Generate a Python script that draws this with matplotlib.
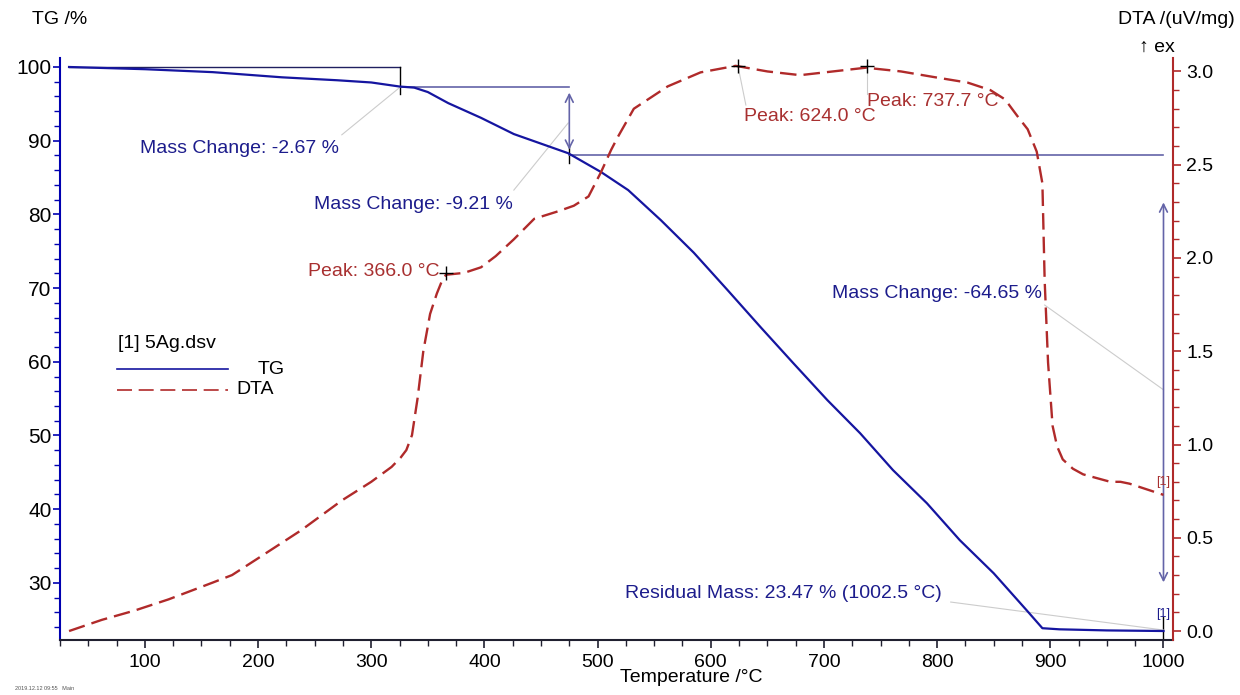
import matplotlib
matplotlib.use('Agg')
import matplotlib.pyplot as plt
from matplotlib.lines import Line2D

plt.rcParams['font.family'] = ['Liberation Sans', 'DejaVu Sans']
plt.rcParams['font.size'] = 14

# TG curve (temperature in °C, mass in %)
tg_temp = [33, 100, 160, 221, 270, 300, 325, 338, 350, 368, 397, 426, 450, 474,
           503, 527, 556, 585, 615, 644, 673, 703, 732, 761, 791, 820, 850, 879,
           893, 908, 950, 1000]
tg_mass = [100.0, 99.7, 99.3, 98.6, 98.2, 97.9, 97.35, 97.2, 96.6, 95.1, 93.1, 90.9,
           89.6, 88.3, 85.75, 83.3, 79.2, 74.8, 69.7, 64.7, 59.8, 54.8, 50.3, 45.3,
           40.8, 35.8, 31.3, 26.3, 23.85, 23.7, 23.55, 23.47]

# DTA curve (temperature in °C, signal in uV/mg)
dta_temp = [33, 62, 91, 121, 160, 177, 200, 238, 274, 300, 318, 326, 331, 336,
            341, 346, 352, 358, 362, 366, 382, 397, 410, 426, 444, 465, 479, 492,
            503, 512, 518, 532, 562, 591, 622, 650, 679, 708, 737, 768, 797, 827,
            847, 860, 871, 880, 888, 893, 895, 898, 902, 906, 911, 920, 929, 953,
            962, 970, 985, 1000]
dta_val = [0.0, 0.06, 0.11, 0.17, 0.26, 0.30, 0.39, 0.54, 0.70, 0.80, 0.88, 0.93,
           0.97, 1.05, 1.25, 1.50, 1.70, 1.81, 1.87, 1.91, 1.92, 1.95, 2.01, 2.10,
           2.21, 2.25, 2.28, 2.33, 2.46, 2.58, 2.65, 2.80, 2.92, 2.995, 3.03, 3.00,
           2.98, 3.00, 3.02, 3.00, 2.97, 2.94, 2.90, 2.85, 2.76, 2.69, 2.57, 2.40,
           1.88, 1.44, 1.10, 0.99, 0.92, 0.87, 0.84, 0.80, 0.80, 0.79, 0.76, 0.73]

peak_temp = [366.0, 624.0, 737.7]
peak_val = [1.92, 3.03, 3.03]

step_temp = [325, 475, 1002.5]
step_mass = [100.0, 97.33, 88.12, 23.47]

tg_col = '#1515a0'
dta_col = '#b02a2a'
txt_blue = '#1c1c8c'
txt_red = '#a83030'
guide = '#6464a8'
leader = '#cccccc'

fig = plt.figure(figsize=(12.4, 6.95), dpi=100)
ax = fig.add_axes([60 / 1240, 55 / 695, 1113 / 1240, 582 / 695])
ax2 = ax.twinx()

ax.set_xlim(26.8, 1008.4)
ax.set_ylim(22.25, 101.22)
ax2.set_ylim(-0.048, 3.072)

# curves
ax.plot(tg_temp, tg_mass, color=tg_col, lw=1.6, zorder=3)
ax2.plot(dta_temp, dta_val, color=dta_col, lw=1.7, dashes=(7, 3), zorder=3)
ax2.plot(peak_temp, peak_val, '+', color='black', ms=10, mew=1.0, zorder=4)

# mass change construction lines
ax.plot([33, step_temp[0]], [step_mass[0], step_mass[0]], color='#202060', lw=1)
ax.plot([step_temp[0], step_temp[0]], [100, 96.3], color='black', lw=1)
ax.plot([step_temp[0], step_temp[1]], [step_mass[1], step_mass[1]], color=guide, lw=1.2)
ax.annotate('', xy=(step_temp[1], 88.4), xytext=(step_temp[1], 96.9),
            arrowprops=dict(arrowstyle='<->', color=guide, lw=1.2))
ax.plot([step_temp[1], step_temp[1]], [89.2, 87.0], color='black', lw=1)
ax.plot([step_temp[1], 1000], [step_mass[2], step_mass[2]], color=guide, lw=1.2)
ax.annotate('', xy=(1000, 29.7), xytext=(1000, 82.0),
            arrowprops=dict(arrowstyle='<->', color=guide, lw=1.2))
ax.plot([1000, 1000], [25.4, 22.5], color='black', lw=1)

# leader lines
ax.plot([274, 325], [90.8, 97.2], color=leader, lw=0.8)
ax.plot([426, 474], [83.3, 92.4], color=leader, lw=0.8)
ax.plot([895, 1000], [67.7, 56.2], color=leader, lw=0.8)
ax.plot([812, 1000], [27.4, 23.6], color=leader, lw=0.8)
ax2.plot([624, 631], [3.03, 2.82], color=leader, lw=0.8)
ax2.plot([737.7, 737.7], [3.03, 2.88], color=leader, lw=0.8)

# annotation texts
ax.text(95.6, 89.0, 'Mass Change: -2.67 %', color=txt_blue, va='center', ha='left')
ax.text(249, 81.4, 'Mass Change: -9.21 %', color=txt_blue, va='center', ha='left')
ax.text(706.7, 69.3, 'Mass Change: -64.65 %', color=txt_blue, va='center', ha='left')
ax.text(524, 28.6, 'Residual Mass: 23.47 % (1002.5 °C)', color=txt_blue,
        va='center', ha='left')
ax2.text(360, 1.93, 'Peak: 366.0 °C', color=txt_red, va='center', ha='right')
ax2.text(629, 2.76, 'Peak: 624.0 °C', color=txt_red, va='center', ha='left')
ax2.text(737.6, 2.84, 'Peak: 737.7 °C', color=txt_red, va='center', ha='left')
ax2.text(1000, 0.80, '[1]', color=txt_red, fontsize=9, va='center', ha='center')
ax.text(1000, 25.8, '[1]', color=txt_blue, fontsize=9, va='center', ha='center')

# spines and ticks
ax.spines['top'].set_visible(False)
ax.spines['right'].set_visible(False)
ax.spines['left'].set_color('#0000b0')
ax.spines['left'].set_linewidth(1.5)
ax.spines['bottom'].set_color('#202030')
ax.spines['bottom'].set_linewidth(1.5)
for s in ['top', 'left', 'bottom']:
    ax2.spines[s].set_visible(False)
ax2.spines['right'].set_color(dta_col)
ax2.spines['right'].set_linewidth(1.5)

ax.set_xticks(range(100, 1001, 100))
ax.set_xticks(range(25, 1001, 25), minor=True)
ax.set_yticks(range(30, 101, 10))
ax.set_yticks(range(24, 101, 2), minor=True)
ax2.set_yticks([0.0, 0.5, 1.0, 1.5, 2.0, 2.5, 3.0])
ax2.set_yticks([i / 10 for i in range(0, 31)], minor=True)
ax2.set_yticklabels(['0.0', '0.5', '1.0', '1.5', '2.0', '2.5', '3.0'])

ax.tick_params(axis='x', which='major', length=6, width=1.2, color='#202030', pad=4)
ax.tick_params(axis='x', which='minor', length=4, width=1.0, color='#202030')
ax.tick_params(axis='y', which='major', length=5, width=1.2, color='#0000b0',
               pad=1, labelsize=15)
ax.tick_params(axis='y', which='minor', length=4, width=1.0, color='#0000b0')
ax2.tick_params(axis='y', which='major', length=6, width=1.2, color=dta_col)
ax2.tick_params(axis='y', which='minor', length=4, width=1.0, color=dta_col)

# axis titles
fig.text(32 / 1240, 1 - 20 / 695, 'TG /%', ha='left', va='center')
fig.text(1235 / 1240, 1 - 20 / 695, 'DTA /(uV/mg)', ha='right', va='center')
fig.text(1175 / 1240, 1 - 47 / 695, '↑ ex', ha='right', va='center')
fig.text(691 / 1240, 1 - 677 / 695, 'Temperature /°C', ha='center', va='center')
fig.text(15 / 1240, 1 - 688 / 695, '2019.12.12 09:55   Main', fontsize=4,
         color='#555555', ha='left', va='center')

# legend
fig.text(118 / 1240, 1 - 343 / 695, '[1] 5Ag.dsv', ha='left', va='center')
fig.add_artist(Line2D([117 / 1240, 228 / 1240], [1 - 369 / 695, 1 - 369 / 695],
                      color=tg_col, lw=1.2))
fig.text(258 / 1240, 1 - 370 / 695, 'TG', ha='left', va='center')
fig.add_artist(Line2D([117 / 1240, 228 / 1240], [1 - 390 / 695, 1 - 390 / 695],
                      color=dta_col, lw=1.2, dashes=(9, 4)))
fig.text(236 / 1240, 1 - 390 / 695, 'DTA', ha='left', va='center')

fig.savefig('out.png', dpi=100)
